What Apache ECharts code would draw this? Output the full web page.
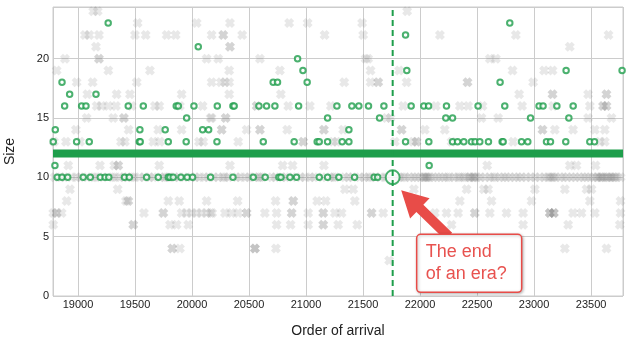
<!DOCTYPE html>
<html><head><meta charset="utf-8">
<script src="https://cdn.jsdelivr.net/npm/echarts@6/dist/echarts.min.js"></script>
<style>html,body{margin:0;padding:0;background:#fff}#c{width:628px;height:357px}</style>
</head><body><div id="c"></div>
<script>
// ---------- data ----------
// Green (hollow) circles by size level
const green23 = [19265, 22787];
const green22 = [21873];
const green21 = [20055];
const green20 = [20926];
const green19 = [20973, 21884, 23281, 23772];
const green18 = [18860, 20712, 20750, 21010, 22702];
const green17 = [18927, 19158];
const green16 = [18883, 19032, 19070, 19441, 19573, 19862, 19880, 20017, 20222, 20359, 20370, 20587, 20654, 20727, 20935, 21271, 21402, 21463, 21548, 21683, 21922, 22033, 22075, 22232, 22509, 22743, 23044, 23079, 23200, 23343];
const green15 = [19953, 21189, 21645, 22226, 22285, 22969, 23305];
const green14 = [18801, 19543, 19765, 20093, 20146, 21376];
const green13 = [18783, 18988, 19099, 19538, 19546, 19792, 19949, 20219, 20625, 20896, 21098, 21116, 21189, 21317, 21376, 21873, 22077, 22285, 22329, 22384, 22451, 22483, 22524, 22600, 22720, 22729, 22890, 22945, 23109, 23144, 23278, 23489, 23530];
const green11 = [18798, 22080];
const green10 = [18818, 18860, 18910, 19046, 19108, 19196, 19238, 19270, 19408, 19450, 19602, 19704, 19792, 19807, 19835, 19903, 19958, 20005, 20163, 20359, 20537, 20642, 20762, 20780, 20859, 20917, 21116, 21189, 21288, 21426, 21598, 21628];
// the dense run of size-12 arrivals (solid band) and the highlighted point
const band12 = [[18781, 12], [23780, 12]];
const eraPoint = [21760, 10];
const eraLineX = 21760;

// Grey (faded) crosses by size level
const gray24 = [19134, 19173, 21887];
const gray23 = [19523, 20041, 20333, 20852, 21014, 21492];
const gray22 = [19061, 19099, 19184, 19500, 19594, 19778, 19857, 20172, 20274, 20274, 20440, 21163, 21501, 22174, 22840, 23653];
const gray21 = [19158, 20333, 20333, 23313];
const gray20 = [18886, 19184, 19184, 20128, 20230, 20596, 21522, 21545, 22612, 22665];
const gray19 = [18813, 19266, 19631, 20326, 20771, 21566, 21817, 22811, 23088, 23162];
const gray18 = [18988, 19129, 19515, 20172, 20254, 20289, 20326, 21335, 21566, 21633, 21633, 21882, 22416, 22416, 22992];
const gray17 = [19082, 19339, 19456, 19909, 20326, 20779, 22869, 23162, 23162, 23474, 23635, 23635];
const gray16 = [19164, 19208, 19266, 19333, 19471, 19675, 19713, 19894, 20093, 20567, 20567, 20844, 21034, 21218, 21852, 22139, 22349, 22422, 22548, 22895, 23167, 23489, 23605, 23605, 23635, 23635];
const gray15 = [19076, 19309, 19403, 19403, 20163, 20172, 20295, 20295, 21706, 21741, 22539, 22685, 23474, 23679];
const gray14 = [18982, 19444, 19704, 19909, 20260, 20260, 20479, 20596, 20596, 20835, 21157, 21157, 21326, 21838, 21838, 22042, 22217, 23074, 23074, 23182, 23342, 23533, 23620];
const gray13 = [18790, 18895, 19018, 19377, 19412, 19660, 19719, 20061, 20099, 20405, 20975, 20975, 21238, 21268, 21779, 21940, 21969, 21969, 22276, 22816, 23576, 23620];
const gray11 = [18915, 19193, 19318, 19353, 19353, 19713, 20333, 20795, 20882, 21157, 22589, 23313, 23372, 23539];
const gray10 = [18795, 18850, 18880, 18940, 18990, 19020, 19080, 19140, 19160, 19220, 19300, 19320, 19370, 19400, 19430, 19470, 19490, 19540, 19580, 19630, 19660, 19720, 19760, 19780, 19800, 19850, 19880, 19930, 19990, 20030, 20060, 20110, 20140, 20190, 20230, 20270, 20290, 20320, 20390, 20420, 20470, 20500, 20550, 20580, 20600, 20620, 20700, 20730, 20790, 20820, 20880, 20950, 20990, 21040, 21070, 21140, 21210, 21240, 21260, 21340, 21370, 21410, 21470, 21510, 21550, 21570, 21610, 21650, 21700, 21720,
  21790, 21820, 21850, 21870, 21910, 21940, 21970, 22000, 22030, 22040, 22050, 22060, 22070, 22090, 22120, 22150, 22180, 22210, 22240, 22260, 22300, 22330, 22350, 22380, 22400, 22430, 22440, 22460, 22470, 22480, 22500, 22530, 22570, 22610, 22640, 22660, 22700, 22730, 22760, 22790, 22830, 22860, 22890, 22930, 22970, 23010, 23050, 23090, 23120, 23140, 23160, 23170, 23190, 23230, 23260, 23290, 23330, 23360, 23400, 23430, 23460, 23490, 23520, 23550, 23560, 23580, 23590, 23600, 23620, 23640, 23650, 23670, 23680, 23700, 23710, 23730, 23760];
const gray9 = [18930, 19348, 21341, 21414, 21946, 22408, 22559, 22597, 23007, 23270, 23460, 23504];
const gray8 = [18901, 19421, 19441, 19441, 19792, 19888, 20128, 20400, 20733, 20888, 20888, 21098, 21172, 21428, 22349, 22627, 22978, 23489, 23758];
const gray7 = [18783, 18813, 18813, 18857, 19579, 19748, 19748, 19909, 19953, 19997, 20041, 20084, 20128, 20163, 20177, 20289, 20347, 20405, 20479, 20479, 20639, 20742, 20874, 20874, 21019, 21151, 21151, 21253, 21312, 21575, 21575, 21677, 22130, 22232, 22334, 22480, 22480, 22612, 22758, 22904, 23138, 23138, 23138, 23173, 23173, 23173, 23342, 23416, 23533, 23758];
const gray6 = [18783, 19485, 19485, 19807, 19865, 19967, 20742, 20865, 21019, 21151, 21151, 21282, 21449, 22276, 22904, 23299, 23752];
const gray4 = [19827, 19827, 19894, 20552, 20552, 20552, 20736, 23270, 23635];
const gray3 = [21729];

const yTicks = [0, 5, 10, 15, 20];

// ---------- build ----------
const greenRows = [[23, green23], [22, green22], [21, green21], [20, green20], [19, green19], [18, green18], [17, green17], [16, green16], [15, green15], [14, green14], [13, green13], [11, green11], [10, green10]];
const grayRows = [[24, gray24], [23, gray23], [22, gray22], [21, gray21], [20, gray20], [19, gray19], [18, gray18], [17, gray17], [16, gray16], [15, gray15], [14, gray14], [13, gray13], [11, gray11], [10, gray10], [9, gray9], [8, gray8], [7, gray7], [6, gray6], [4, gray4], [3, gray3]];
function toPoints(rows) {
  const out = [];
  rows.forEach(([s, xs]) => xs.forEach(x => out.push([x, s])));
  return out;
}
const GREEN = '#1e9e4b';
const RED = '#e84c48';
const FONT = '"Liberation Sans", Arial, sans-serif';
const crossPath = 'path://M3,0L5,2L7,0L10,3L8,5L10,7L7,10L5,8L3,10L0,7L2,5L0,3Z';
const yMax = 24.35;

const chart = echarts.init(document.getElementById('c'), null, {renderer: 'canvas'});
chart.setOption({
  animation: false,
  backgroundColor: '#fff',
  grid: {left: 53, right: 5, top: 7, bottom: 61, show: true, borderColor: '#cccccc', borderWidth: 1,
    containLabel: false, outerBoundsMode: 'none'},
  xAxis: {
    type: 'value', min: 18781, max: 23780, splitNumber: 10,
    name: 'Order of arrival', nameLocation: 'middle', nameGap: 28,
    nameTextStyle: {fontFamily: FONT, fontSize: 14, color: '#222'},
    axisLine: {show: false}, axisTick: {show: false},
    axisLabel: {fontFamily: FONT, fontSize: 11, color: '#222', margin: 3, showMinLabel: false, showMaxLabel: false,
      formatter: v => (v % 500 === 0 ? String(v) : '')},
    splitLine: {show: true, lineStyle: {color: '#cccccc', width: 1}}
  },
  yAxis: {
    type: 'value', min: 0, max: yMax, interval: 5,
    name: 'Size', nameLocation: 'middle', nameGap: 36,
    nameTextStyle: {fontFamily: FONT, fontSize: 14, color: '#222'},
    axisLine: {show: false}, axisTick: {show: false},
    axisLabel: {fontFamily: FONT, fontSize: 11, color: '#222', margin: 4, showMaxLabel: false,
      formatter: v => (yTicks.indexOf(v) >= 0 ? String(v) : '')},
    splitLine: {show: true, lineStyle: {color: '#cccccc', width: 1}}
  },
  series: [
    {type: 'scatter', data: toPoints(grayRows), symbol: crossPath, symbolSize: 10, silent: true, z: 1,
      itemStyle: {color: 'rgba(115,115,115,0.2)'}},
    {type: 'line', data: band12, symbol: 'none', silent: true, z: 2,
      lineStyle: {color: GREEN, width: 8, cap: 'butt'}},
    {type: 'scatter', data: toPoints(greenRows), symbol: 'circle', symbolSize: 5.5, silent: true, z: 3,
      itemStyle: {color: '#ffffff', borderColor: GREEN, borderWidth: 2}},
    {type: 'scatter', data: [eraPoint], symbol: 'circle', symbolSize: 14, silent: true, z: 4,
      itemStyle: {color: '#ffffff', borderColor: GREEN, borderWidth: 2}},
    {type: 'line', data: [[eraLineX, 0], [eraLineX, yMax]], symbol: 'none', silent: true, z: 5,
      lineStyle: {color: GREEN, width: 2, type: [6, 4]}}
  ]
});

// annotation placed relative to the highlighted point
const p = chart.convertToPixel({gridIndex: 0}, eraPoint);
const tip = [p[0] + 8.5, p[1] + 13];
const end = [p[0] + 56, p[1] + 59];
const dx = end[0] - tip[0], dy = end[1] - tip[1];
const L = Math.sqrt(dx * dx + dy * dy);
const d = [dx / L, dy / L], n = [-d[1], d[0]];
const headLen = 26, headHalf = 14, shaftHalf = 5;
const base = [tip[0] + d[0] * headLen, tip[1] + d[1] * headLen];
const pt = (c, k) => [c[0] + n[0] * k, c[1] + n[1] * k];
const arrowPts = [tip, pt(base, headHalf), pt(base, shaftHalf), pt(end, shaftHalf), pt(end, -shaftHalf), pt(base, -shaftHalf), pt(base, -headHalf)];
const bx = p[0] + 24, by = p[1] + 57;
chart.setOption({
  graphic: [
    {type: 'polygon', shape: {points: arrowPts}, style: {fill: RED}, z: 100, silent: true},
    {type: 'rect', shape: {x: bx, y: by, width: 105, height: 58, r: 4}, z: 101, silent: true,
      style: {fill: '#ffffff', stroke: RED, lineWidth: 1.5, shadowBlur: 3, shadowColor: 'rgba(0,0,0,0.25)', shadowOffsetX: 1, shadowOffsetY: 1}},
    {type: 'text', x: bx + 9, y: by + 6, z: 102, silent: true,
      style: {text: 'The end\nof an era?', fill: '#e8524f', font: '18px ' + FONT, lineHeight: 22.5, textVerticalAlign: 'top'}}
  ]
});
</script>
</body></html>
